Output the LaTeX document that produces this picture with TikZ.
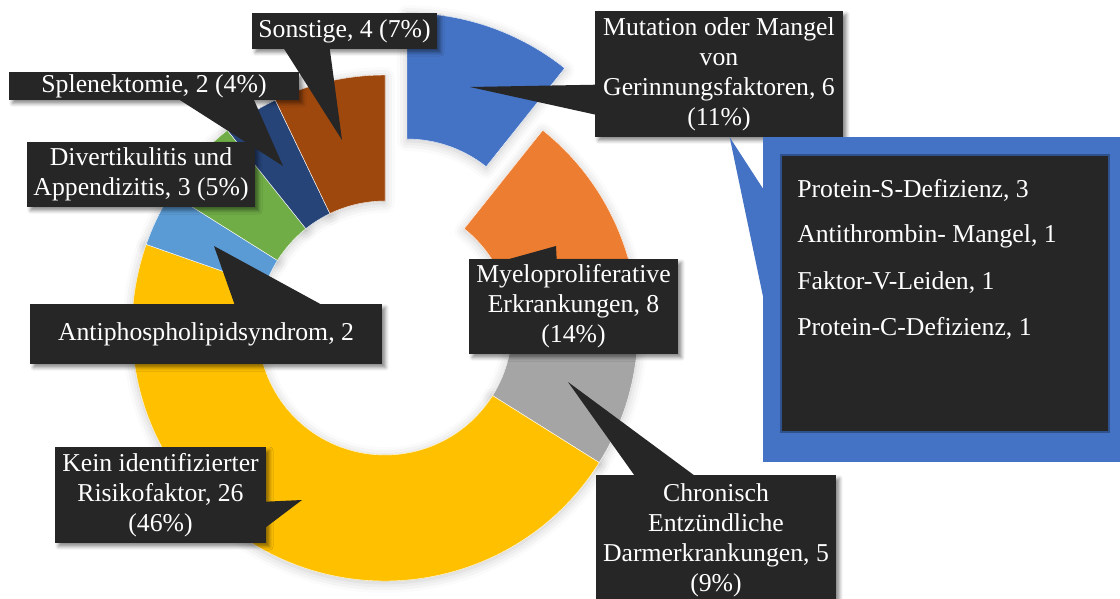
\documentclass[tikz,border=0pt]{standalone}
\usepackage{fontspec}
\setmainfont{Liberation Serif}
\usetikzlibrary{calc,shadows.blur}
\definecolor{segBlau}{HTML}{4472C4}
\definecolor{segOrange}{HTML}{ED7D31}
\definecolor{segGrau}{HTML}{A5A5A5}
\definecolor{segGelb}{HTML}{FFC000}
\definecolor{segHellblau}{HTML}{5B9BD5}
\definecolor{segGruen}{HTML}{70AD47}
\definecolor{segDunkelblau}{HTML}{264478}
\definecolor{segBraun}{HTML}{9E480E}
\definecolor{boxDunkel}{HTML}{262626}
\definecolor{randBlau}{HTML}{2F528F}
\tikzset{
	callout/.style={fill=boxDunkel, text=white, inner sep=0pt, align=center,
			font=\fontsize{18.3}{21.3}\selectfont,
			blur shadow={shadow xshift=2.5pt, shadow yshift=-2.5pt, shadow blur radius=2.5pt, shadow opacity=45}},
	zeiger/.style={fill=boxDunkel},
	eintrag/.style={text=white, anchor=west, inner sep=0pt, font=\fontsize{18.3}{21.3}\selectfont},
	ringschatten/.style={blur shadow={shadow xshift=0pt, shadow yshift=-1.5pt, shadow blur radius=7pt, shadow opacity=22}}
}

\begin{document}
\begin{tikzpicture}[x=0.025cm, y=-0.025cm]
	\useasboundingbox (0,0) rectangle (1120,599);

	% donut: two passes, shadows first
	\foreach \s in {1,2} {
		\foreach \a/\b/\c/\cx/\cy in {-90/-51.43/segBlau/407/266, -51.43/0/segOrange/385/328,
				0/32.14/segGrau/385/328, 32.14/199.29/segGelb/385/328,
				199.29/212.14/segHellblau/385/328, 212.14/231.43/segGruen/385/328,
				231.43/244.29/segDunkelblau/385/328, 244.29/270/segBraun/385/328} {
			\ifnum\s=1
				\fill[\c, ringschatten, shift={(\cx,\cy)}] (\a:253) arc[start angle=\a, end angle=\b, radius=253]
				-- (\b:127) arc[start angle=\b, end angle=\a, radius=127] -- cycle;
			\else
				\fill[\c, draw=white, line width=0.3pt, shift={(\cx,\cy)}] (\a:253) arc[start angle=\a, end angle=\b, radius=253]
				-- (\b:127) arc[start angle=\b, end angle=\a, radius=127] -- cycle;
			\fi
		}
	}

	\node[callout, minimum width=4.625cm, minimum height=0.9cm] (sonst) at (344.5,31) {Sonstige, 4 (7\%)};
	\node[callout, minimum width=7.25cm, minimum height=0.7cm] (splen) at (154,86) {Splenektomie, 2 (4\%)};
	\node[callout, minimum width=5.7cm, minimum height=1.625cm] (divert) at (141,174.5) {Divertikulitis und\\Appendizitis, 3 (5\%)};
	\node[callout, minimum width=8.8cm, minimum height=1.5cm] (anti) at (206,334) {Antiphospholipidsyndrom, 2};
	\node[callout, minimum width=5.275cm, minimum height=2.4cm] (kein) at (160.5,495) {Kein identifizierter\\Risikofaktor, 26\\(46\%)};
	\node[callout, minimum width=5.225cm, minimum height=2.375cm] (myelo) at (573.5,306.5) {Myeloproliferative\\Erkrankungen, 8\\(14\%)};
	\node[callout, minimum width=6cm, minimum height=3.25cm] (chron) at (716,540) {Chronisch\\Entzündliche\\Darmerkrankungen, 5\\(9\%)};
	\node[callout, minimum width=6.2cm, minimum height=3.15cm] (mutat) at (719,74) {Mutation oder Mangel\\von\\Gerinnungsfaktoren, 6\\(11\%)};

	\coordinate (sonstSpitze) at (342,140);
	\coordinate (splenSpitze) at (283,166);
	\coordinate (antiSpitze) at (214,246);
	\coordinate (keinSpitze) at (302,500);
	\coordinate (myeloSpitze) at (556,246);
	\coordinate (chronSpitze) at (568,382);
	\coordinate (mutatSpitze) at (470,87);

	\fill[zeiger] ($(sonst.south west)+(32,-1)$) -- (sonstSpitze) -- ($(sonst.south west)+(78,-1)$) -- cycle;
	\fill[zeiger] ($(splen.south west)+(170,-1)$) -- (splenSpitze) -- ($(splen.south west)+(245,-1)$) -- cycle;
	\fill[zeiger] ($(anti.north west)+(205,1)$) -- (antiSpitze) -- ($(anti.north west)+(292,1)$) -- cycle;
	\fill[zeiger] ($(kein.north east)+(-1,55)$) -- (keinSpitze) -- ($(kein.north east)+(-1,81)$) -- cycle;
	\fill[zeiger] ($(myelo.north west)+(38,1)$) -- (myeloSpitze) -- ($(myelo.north west)+(88,1)$) -- cycle;
	\fill[zeiger] ($(chron.north west)+(39,1)$) -- (chronSpitze) -- ($(chron.north west)+(99,1)$) -- cycle;
	\fill[zeiger] ($(mutat.north west)+(1,74)$) -- (mutatSpitze) -- ($(mutat.north west)+(1,104)$) -- cycle;

	% Aufschluesselung der Gerinnungsfaktoren
	\node[fill=segBlau, inner sep=0pt, minimum width=8.925cm, minimum height=8.125cm] (blau) at (941.5,299.5) {};
	\fill[segBlau] ($(blau.north west)+(1,53)$) -- ($(mutat.south west)+(135,0)$) -- ($(blau.north west)+(1,163)$) -- cycle;
	\node[fill=boxDunkel, draw=randBlau, line width=1pt, inner sep=0pt, minimum width=8.2cm, minimum height=6.925cm] (liste) at (945,293.5) {};
	\foreach \t [count=\i] in {{Protein-S-Defizienz, 3}, {Antithrombin- Mangel, 1}, {Faktor-V-Leiden, 1}, {Protein-C-Defizienz, 1}}
		\node[eintrag] (eintrag\i) at (797,{190+(\i-1)*46.2}) {\t};
\end{tikzpicture}
\end{document}
